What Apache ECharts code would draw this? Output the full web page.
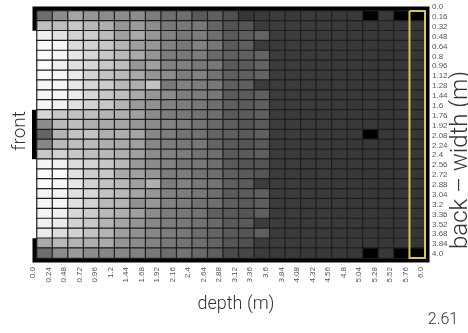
<!DOCTYPE html>
<html>
<head>
<meta charset="utf-8">
<script src="https://cdn.jsdelivr.net/npm/echarts@6/dist/echarts.min.js"></script>
<style>
  html, body { margin: 0; padding: 0; background: #fff; }
  #chart { width: 468px; height: 333px; }
</style>
</head>
<body>
<div id="chart"></div>
<script>
// Tick labels along the room depth (bottom) and width (right)
const depthTicks = ['0.0','0.24','0.48','0.72','0.96','1.2','1.44','1.68','1.92','2.16','2.4','2.64','2.88',
  '3.12','3.36','3.6','3.84','4.08','4.32','4.56','4.8','5.04','5.28','5.52','5.76','6.0'];
const widthTicks = ['0.0','0.16','0.32','0.48','0.64','0.8','0.96','1.12','1.28','1.44','1.6','1.76','1.92',
  '2.08','2.24','2.4','2.56','2.72','2.88','3.04','3.2','3.36','3.52','3.68','3.84','4.0'];

const depthStep = 0.24;
const widthStep = 0.16;
const depthMax = 6.0;
const widthMax = 4.0;

// Relative light level per cell (0 = black, 255 = white); one row per width band, front -> back
const lightLevel = [
  [110,140,165,150,140,140,140,125,110,110, 90, 95, 80, 55, 58, 60, 58, 59, 58, 57, 58,  0, 57,  0,  0],
  [190,190,200,185,175,150,155,140,120,120,120,100, 82, 85, 60, 60, 61, 59, 58, 58, 57, 56, 56, 55, 54],
  [240,225,210,205,190,160,170,150,130,120,125,110, 90, 95,100, 60, 60, 59, 58, 58, 57, 56, 56, 55, 54],
  [250,245,220,210,200,180,160,150,130,120,130,120, 90, 95, 60, 59, 60, 58, 58, 57, 57, 56, 55, 55, 54],
  [250,245,230,215,200,185,170,150,125,120,125,105, 95, 95,100, 60, 59, 58, 59, 57, 56, 57, 55, 54, 54],
  [250,240,225,215,200,190,150,160,130,130,120,120, 90, 90,100, 59, 60, 58, 58, 58, 57, 56, 56, 55, 54],
  [250,245,235,210,195,185,170,150,140,125,130,115, 95, 95,100, 60, 59, 59, 58, 57, 57, 56, 55, 55, 55],
  [245,245,230,215,205,185,175,195,120,130,125,120, 95, 95, 60, 60, 60, 58, 58, 58, 56, 56, 56, 54, 54],
  [245,245,235,215,200,190,170,150,140,125,125,120, 90, 90, 95, 59, 59, 58, 58, 57, 57, 56, 55, 55, 54],
  [245,240,225,210,200,180,155,145,130,125,120,110, 95, 90, 95, 60, 60, 59, 58, 58, 56, 57, 55, 55, 54],
  [215,200,195,190,180,175,160,140,125,120,115,110, 90, 90, 95, 59, 59, 58, 58, 57, 57, 56, 56, 55, 54],
  [140,185,190,175,170,165,150,140,130,125,115,105, 95, 85, 90, 60, 59, 58, 58, 58, 57, 56, 55, 55, 54],
  [100,180,195,195,175,175,165,135,125,115,115,100, 95, 90, 95, 59, 60, 58, 58, 57, 57,  0, 56, 55, 54],
  [135,185,190,185,175,170,160,135,125,120,120,100, 90, 85, 90, 60, 59, 59, 58, 57, 56, 56, 55, 55, 54],
  [200,210,200,190,185,175,160,140,130,125,115,110, 90, 90, 95, 59, 59, 58, 58, 58, 57, 56, 55, 55, 55],
  [245,240,220,210,200,185,155,140,130,120,120,110, 90, 85, 85, 60, 60, 58, 58, 57, 57, 56, 56, 54, 54],
  [250,250,225,205,200,170,160,150,125,125,115,110, 95, 90, 85, 59, 59, 58, 59, 57, 56, 56, 55, 55, 54],
  [250,245,230,210,195,185,160,175,125,130,120,115, 95, 90, 60, 60, 60, 58, 58, 58, 57, 56, 55, 55, 54],
  [245,245,225,215,195,185,165,150,130,125,120,110, 90, 90, 95, 59, 59, 59, 58, 57, 57, 56, 56, 55, 54],
  [245,245,225,210,185,180,145,150,130,125,115,110, 95, 90, 95, 60, 59, 58, 58, 58, 56, 56, 55, 55, 54],
  [245,240,215,205,185,175,160,140,125,120,115, 95, 90, 85, 95, 59, 60, 58, 58, 57, 57, 57, 55, 54, 54],
  [240,235,210,200,180,165,150,135,125,120,115,105, 90, 90, 60, 60, 59, 58, 59, 58, 57, 56, 56, 55, 54],
  [235,220,210,195,180,160,145,135,125,120,110,100, 90, 85, 95, 59, 59, 58, 58, 57, 56, 56, 55, 55, 54],
  [170,185,180,175,170,150,140,130,120,115,110,100, 85, 80, 60, 60, 59, 58, 58, 57, 57, 56, 55, 55, 54],
  [110,140,155,140,135,135,130,120,110,115,105, 95, 75, 70, 60, 58, 58, 57, 57, 57, 56,  0, 56,  0,  0]
];

// Room outline in metres (depth, width): walls and the front wall piers between the windows
const outerWalls = [[0, 0.32], [0, 0], [6, 0], [6, 4], [0, 4], [0, 3.68]];
const frontPier = [[0, 1.6], [0, 2.4]];
// Highlighted strip along the back wall
const backStrip = [[5.76, 0], [6, 0], [6, 4], [5.76, 4], [5.76, 0]];

const avgValue = '2.61';

const depthCells = depthTicks.slice(0, -1);
const widthCells = widthTicks.slice(0, -1);
const cells = [];
lightLevel.forEach((row, r) => row.forEach((v, c) => cells.push([c, r, v])));

const chart = echarts.init(document.getElementById('chart'), null, { renderer: 'canvas' });
const labelFont = 'Liberation Sans, Arial, sans-serif';
const titleFont = 'Roboto, Liberation Sans, sans-serif';

chart.setOption({
  animation: false,
  backgroundColor: '#ffffff',
  grid: { left: 37, top: 11, width: 388, height: 247, containLabel: false },
  xAxis: [
    { type: 'category', data: depthCells, show: false, gridIndex: 0 },
    {
      type: 'value', min: 0, max: depthMax, interval: depthStep, position: 'bottom',
      axisLine: { show: false }, axisTick: { show: false }, splitLine: { show: false },
      axisLabel: {
        rotate: 90, margin: 9, fontSize: 8, color: '#555', fontFamily: labelFont,
        verticalAlign: 'bottom',
        formatter: v => depthTicks[Math.round(v / depthStep)]
      }
    }
  ],
  yAxis: [
    { type: 'category', data: widthCells, inverse: true, show: false },
    {
      type: 'value', min: 0, max: widthMax, interval: widthStep, inverse: true, position: 'right',
      axisLine: { show: false }, axisTick: { show: false }, splitLine: { show: false },
      axisLabel: {
        margin: 7, fontSize: 8, color: '#555', fontFamily: labelFont,
        verticalAlign: 'bottom',
        formatter: v => widthTicks[Math.round(v / widthStep)]
      }
    }
  ],
  visualMap: {
    show: false, min: 0, max: 255, dimension: 2, seriesIndex: 0,
    inRange: { color: ['#000000', '#ffffff'] }
  },
  series: [
    {
      type: 'heatmap', xAxisIndex: 0, yAxisIndex: 0, data: cells, z: 2,
      itemStyle: { borderColor: '#1e1e1e', borderWidth: 1.2 },
      emphasis: { disabled: true }
    },
    {
      type: 'line', xAxisIndex: 1, yAxisIndex: 1, data: outerWalls, z: 1, clip: false,
      symbol: 'none', silent: true,
      lineStyle: { color: '#000', width: 9, join: 'miter', cap: 'butt' }
    },
    {
      type: 'line', xAxisIndex: 1, yAxisIndex: 1, data: frontPier, z: 1, clip: false,
      symbol: 'none', silent: true,
      lineStyle: { color: '#000', width: 10, cap: 'butt' }
    },
    {
      type: 'line', xAxisIndex: 1, yAxisIndex: 1, data: backStrip, z: 3, clip: false,
      symbol: 'none', silent: true,
      lineStyle: { color: '#d8c84c', width: 2, join: 'miter' }
    }
  ],
  graphic: [
    {
      type: 'text', x: 20, y: 131, rotation: Math.PI / 2,
      style: { text: 'front', font: '300 19px ' + titleFont, fill: '#333', align: 'center', verticalAlign: 'middle' }
    },
    {
      type: 'text', x: 461, y: 160, rotation: Math.PI / 2,
      style: { text: 'back \u2013 width (m)', font: '300 24px ' + titleFont, fill: '#333', align: 'center', verticalAlign: 'middle' }
    },
    {
      type: 'text', x: 236, y: 304,
      style: { text: 'depth (m)', font: '300 18px ' + titleFont, fill: '#333', align: 'center', verticalAlign: 'middle' }
    },
    {
      type: 'text', x: 443, y: 320,
      style: { text: avgValue, font: '300 16px ' + titleFont, fill: '#333', align: 'center', verticalAlign: 'middle' }
    }
  ]
});
</script>
</body>
</html>
